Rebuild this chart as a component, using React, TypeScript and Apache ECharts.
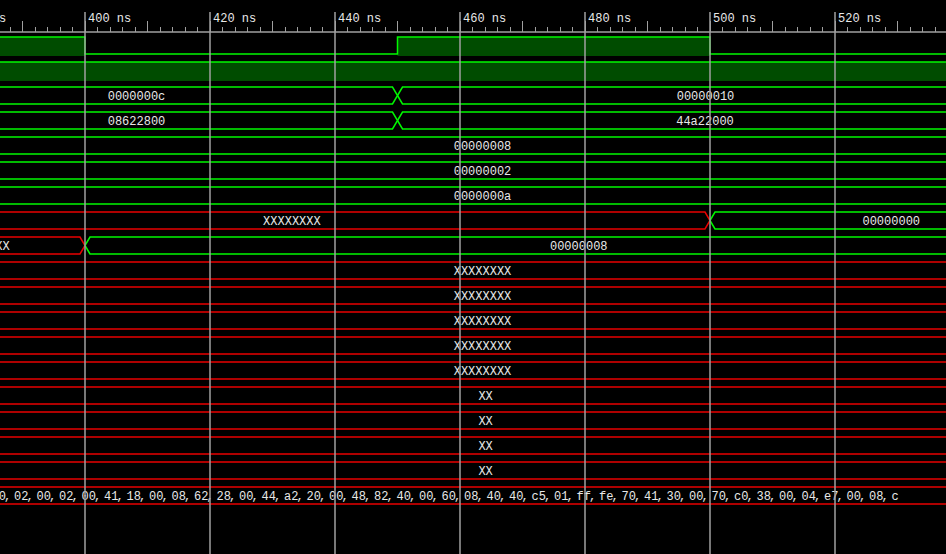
import React, { useEffect, useRef } from "react";
import * as echarts from "echarts";

// ---- time window (ns) ----
const timeMin = 380;
const timeMax = 540;
const majorStep = 20;
const midStep = 10;

// ---- single-bit signals ----
const clkTimes = [370, 400, 450, 500, 560];
const clkLevels = [1, 0, 1, 0];
const enTimes = [370, 560];
const enLevels = [1];

// ---- bus signals (rows 2..17) ----
const busBounds: number[][] = [
  [370, 450, 560],
  [370, 450, 560],
  [370, 560],
  [370, 560],
  [370, 560],
  [370, 500, 560],
  [370, 400, 560],
  [370, 560],
  [370, 560],
  [370, 560],
  [370, 560],
  [370, 560],
  [370, 560],
  [370, 560],
  [370, 560],
  [370, 560],
];
const busValues: string[][] = [
  ["0000000c", "00000010"],
  ["08622800", "44a22000"],
  ["00000008"],
  ["00000002"],
  ["0000000a"],
  ["XXXXXXXX", "00000000"],
  ["XX", "00000008"],
  ["XXXXXXXX"],
  ["XXXXXXXX"],
  ["XXXXXXXX"],
  ["XXXXXXXX"],
  ["XXXXXXXX"],
  ["XX"],
  ["XX"],
  ["XX"],
  ["XX"],
];
const busLabelTimes: number[][] = [
  [408.24, 499.28],
  [408.24, 499.2],
  [463.6],
  [463.6],
  [463.6],
  [433.1, 529.0],
  [386.8, 479.0],
  [463.6],
  [463.6],
  [463.6],
  [463.6],
  [463.6],
  [464.1],
  [464.1],
  [464.1],
  [464.1],
];

// ---- memory row (byte list) ----
const memBytes = [
  "00", "02", "00", "02", "00", "41", "18", "00", "08", "62", "28", "00", "44", "a2",
  "20", "00", "48", "82", "40", "00", "60", "08", "40", "40", "c5", "01", "ff", "fe",
  "70", "41", "30", "00", "70", "c0", "38", "00", "04", "e7", "00", "08", "c",
];
const memBounds = [370, 560];
const memHasUnknown = true;
const memLabelStart = 385.04;
const memLabelStep = 3.6;

const rowCount = 2 + busBounds.length + 1;

const GREEN = "#00f800";
const RED = "#e80000";
const FILL = "#004c00";
const GRAY = "#a0a0a0";
const TEXT = "#e8e8e8";
const FONT = '12px "Liberation Mono"';
const HALF = 8.5;
const SLANT = 5;
const LW = 1.5;
const COMMA_DX = 12.6;
const TEXT_DY = 1;

function isUnknown(v: string) {
  return /x/i.test(v);
}

export default function App() {
  const ref = useRef<HTMLDivElement>(null);

  useEffect(() => {
    document.body.style.margin = "0";
    if (!ref.current) return;
    const chart = echarts.init(ref.current, null, { renderer: "svg" });

    const textEl = (x: number, y: number, text: string, align: string) => ({
      type: "text",
      x,
      y,
      style: {
        text,
        fill: TEXT,
        font: FONT,
        align,
        textAlign: align,
        verticalAlign: "middle",
        textVerticalAlign: "middle",
      },
    });

    const hexagon = (x0: number, x1: number, top: number, c: number, bot: number, color: string) => ({
      type: "polyline",
      shape: {
        points: [
          [x0, c],
          [x0 + SLANT, top],
          [x1 - SLANT, top],
          [x1, c],
          [x1 - SLANT, bot],
          [x0 + SLANT, bot],
          [x0, c],
        ],
      },
      style: { stroke: color, fill: null, lineWidth: LW },
    });

    const renderItem = (params: any, api: any) => {
      const row = params.dataIndex;
      const c = api.coord([timeMin, row])[1];
      const X = (t: number) => api.coord([t, row])[0];
      const top = c - HALF;
      const bot = c + HALF;
      const children: any[] = [];

      if (row < 2) {
        const times = row === 0 ? clkTimes : enTimes;
        const levels = row === 0 ? clkLevels : enLevels;
        const pts: number[][] = [];
        levels.forEach((lv, k) => {
          const x0 = X(times[k]);
          const x1 = X(times[k + 1]);
          const y = lv ? top : bot;
          if (lv) {
            children.push({
              type: "rect",
              shape: { x: x0, y: top, width: x1 - x0, height: 2 * HALF + 2 },
              style: { fill: FILL },
            });
          }
          pts.push([x0, y], [x1, y]);
        });
        children.push({
          type: "polyline",
          shape: { points: pts },
          style: { stroke: GREEN, fill: null, lineWidth: LW },
        });
      } else if (row < 2 + busBounds.length) {
        const b = row - 2;
        const bounds = busBounds[b];
        const vals = busValues[b];
        const lt = busLabelTimes[b];
        vals.forEach((v, k) => {
          const color = isUnknown(v) ? RED : GREEN;
          children.push(hexagon(X(bounds[k]), X(bounds[k + 1]), top, c, bot, color));
        });
        vals.forEach((v, k) => {
          children.push(textEl(X(lt[k]), c + TEXT_DY, v, "center"));
        });
      } else {
        const color = memHasUnknown ? RED : GREEN;
        children.push(hexagon(X(memBounds[0]), X(memBounds[1]), top, c, bot, color));
        memBytes.forEach((v, i) => {
          const x = X(memLabelStart + i * memLabelStep);
          children.push(textEl(x, c + TEXT_DY, v, "left"));
          if (i < memBytes.length - 1) children.push(textEl(x + COMMA_DX, c + TEXT_DY, ",", "left"));
        });
      }
      return { type: "group", children };
    };

    const rows = Array.from({ length: rowCount }, (_, i) => [timeMin, i]);

    chart.setOption({
      animation: false,
      backgroundColor: "#000000",
      grid: {
        left: -40,
        right: -14,
        top: 32,
        bottom: 0,
        containLabel: false,
        outerBoundsMode: "none",
      },
      xAxis: [
        {
          type: "value",
          position: "top",
          min: timeMin,
          max: timeMax,
          interval: majorStep,
          z: 10,
          axisLine: { show: true, onZero: false, lineStyle: { color: GRAY, width: 1.5 } },
          axisTick: { show: true, inside: false, length: 20, lineStyle: { color: GRAY, width: 1.5 } },
          minorTick: { show: true, splitNumber: 10, length: 5, lineStyle: { color: GRAY, width: 1 } },
          minorSplitLine: { show: false },
          axisLabel: {
            show: true,
            formatter: (v: number) => `${v} ns`,
            color: TEXT,
            fontFamily: "Liberation Mono",
            fontSize: 12,
            align: "left",
            verticalAlign: "middle",
            margin: 13,
            padding: [0, 0, 0, 3],
            showMinLabel: true,
            showMaxLabel: true,
            hideOverlap: false,
          },
          splitLine: { show: true, lineStyle: { color: GRAY, width: 1.5 } },
        },
        {
          type: "value",
          position: "top",
          offset: 0,
          min: timeMin,
          max: timeMax,
          interval: midStep,
          z: 10,
          axisLine: { show: false, onZero: false },
          axisTick: { show: true, inside: false, length: 11, lineStyle: { color: GRAY, width: 1 } },
          axisLabel: { show: false },
          splitLine: { show: false },
        },
      ],
      yAxis: {
        type: "value",
        min: -0.54,
        max: 20.34,
        inverse: true,
        show: false,
        splitLine: { show: false },
      },
      series: [
        {
          type: "custom",
          renderItem,
          data: rows,
          encode: { x: 0, y: 1 },
          silent: true,
          clip: false,
          z: 1,
        },
      ],
    });

    return () => chart.dispose();
  }, []);

  return (
    <div
      ref={ref}
      style={{ position: "absolute", left: 0, top: 0, width: 946, height: 554, overflow: "hidden" }}
    />
  );
}
